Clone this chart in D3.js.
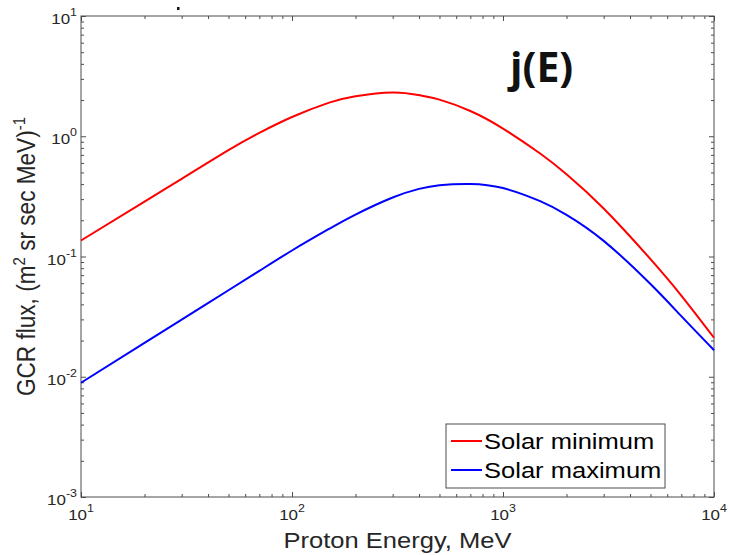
<!DOCTYPE html>
<html>
<head>
<meta charset="utf-8">
<script src="https://cdn.jsdelivr.net/npm/d3@7"></script>
<style>
  html, body { margin: 0; padding: 0; background: #ffffff; }
  svg { display: block; }
  text { font-family: "Liberation Sans", Arial, Helvetica, sans-serif; fill: #262626; }
</style>
</head>
<body>
<svg id="chart" width="730" height="555"></svg>
<script>
// Proton energy grid (MeV)
const energy = [10, 20, 30, 50, 70, 100, 150, 200, 300, 400, 500, 700, 1000, 1500, 2000, 3000, 5000, 7000, 10000];
// GCR differential flux, (m^2 sr sec MeV)^-1
const fluxSolarMin = [0.1359, 0.2862, 0.4422, 0.7661, 1.065, 1.445, 1.902, 2.154, 2.313, 2.199, 2.015, 1.622, 1.159, 0.7188, 0.4832, 0.2507, 0.0951, 0.0473, 0.0211];
const fluxSolarMax = [0.00891, 0.01913, 0.02985, 0.0524, 0.0759, 0.1122, 0.1698, 0.2234, 0.3095, 0.3652, 0.392, 0.4013, 0.3708, 0.2884, 0.2221, 0.1349, 0.0590, 0.0319, 0.01663];
const seriesNames = ["Solar minimum", "Solar maximum"];
const seriesColors = ["#ff0000", "#0000ff"];
// Decade tick exponents
const xTickExponents = [1, 2, 3, 4];
const yTickExponents = [-3, -2, -1, 0, 1];

(function () {
  const svg = d3.select("#chart");
  const plotL = 81, plotR = 714, plotT = 16, plotB = 497;
  const axisColor = "#4d4d4d";
  const stretch = 1.13;

  const x = d3.scaleLog().domain([10, 1e4]).range([plotL, plotR]);
  const y = d3.scaleLog().domain([1e-3, 10]).range([plotB, plotT]);

  // minor tick values (2..9 of each decade)
  function minorTicks(lo, hi) {
    const out = [];
    for (let e = lo; e < hi; e++) for (let m = 2; m <= 9; m++) out.push(m * Math.pow(10, e));
    return out;
  }
  const xMajor = xTickExponents.map(e => Math.pow(10, e));
  const yMajor = yTickExponents.map(e => Math.pow(10, e));
  const xMinor = minorTicks(1, 4);
  const yMinor = minorTicks(-3, 1);

  function tickGroup(axisFn, scale, values, size, transform) {
    const g = svg.append("g").attr("transform", transform)
      .call(axisFn(scale).tickValues(values).tickSize(size).tickFormat(""));
    g.select(".domain").remove();
    g.selectAll(".tick line").attr("stroke", axisColor).attr("stroke-width", 1);
    return g;
  }
  // inward ticks on all four sides
  tickGroup(d3.axisBottom, x, xMajor, -5, `translate(0,${plotB})`);
  tickGroup(d3.axisBottom, x, xMinor, -3, `translate(0,${plotB})`);
  tickGroup(d3.axisTop, x, xMajor, -5, `translate(0,${plotT})`);
  tickGroup(d3.axisTop, x, xMinor, -3, `translate(0,${plotT})`);
  tickGroup(d3.axisLeft, y, yMajor, -5, `translate(${plotL},0)`);
  tickGroup(d3.axisLeft, y, yMinor, -3, `translate(${plotL},0)`);
  tickGroup(d3.axisRight, y, yMajor, -5, `translate(${plotR},0)`);
  tickGroup(d3.axisRight, y, yMinor, -3, `translate(${plotR},0)`);

  // axes box
  svg.append("rect")
    .attr("x", plotL).attr("y", plotT)
    .attr("width", plotR - plotL).attr("height", plotB - plotT)
    .attr("fill", "none").attr("stroke", axisColor).attr("stroke-width", 1);

  // x tick labels: 10^n
  xTickExponents.forEach(e => {
    const g = svg.append("g").attr("transform", `translate(${x(Math.pow(10, e))},520) scale(${stretch},1)`);
    const t = g.append("text").attr("text-anchor", "middle").style("font-size", "15px");
    t.append("tspan").text("10");
    t.append("tspan").attr("dy", -8).style("font-size", "11px").text(String(e));
  });
  // y tick labels
  yTickExponents.forEach(e => {
    const g = svg.append("g").attr("transform", `translate(77,${y(Math.pow(10, e)) + 8}) scale(${stretch},1)`);
    const t = g.append("text").attr("text-anchor", "end").style("font-size", "15px");
    t.append("tspan").text("10");
    t.append("tspan").attr("dy", -8).style("font-size", "11px").text(String(e));
  });

  // axis titles
  svg.append("g").attr("transform", `translate(${(plotL + plotR) / 2},548) scale(${stretch},1)`)
    .append("text").attr("text-anchor", "middle").style("font-size", "22.6px")
    .text("Proton Energy, MeV");

  const yl = svg.append("g").attr("transform", `translate(35,${(plotT + plotB) / 2}) scale(${stretch},1) rotate(-90)`)
    .append("text").attr("text-anchor", "middle").style("font-size", "22.6px");
  yl.append("tspan").text("GCR flux, (m");
  yl.append("tspan").attr("dy", -9).style("font-size", "15px").text("2");
  yl.append("tspan").attr("dy", 9).text(" sr sec MeV)");
  yl.append("tspan").attr("dy", -9).style("font-size", "15px").text("-1");

  // curves
  const line = d3.line()
    .x(d => x(d[0]))
    .y(d => y(d[1]))
    .curve(d3.curveNatural);
  [fluxSolarMin, fluxSolarMax].forEach((vals, i) => {
    svg.append("path")
      .datum(energy.map((e, k) => [e, vals[k]]))
      .attr("d", line)
      .attr("fill", "none")
      .attr("stroke", seriesColors[i])
      .attr("stroke-width", 2);
  });

  // panel annotation
  svg.append("text")
    .attr("x", 510).attr("y", 82)
    .style("font-family", "'Open Sans', sans-serif")
    .style("font-weight", "bold")
    .style("font-size", "41px")
    .style("fill", "#111")
    .text("j(E)");

  // small stray mark above the axes
  svg.append("rect").attr("x", 177).attr("y", 7).attr("width", 2.5).attr("height", 3).attr("fill", "#111");

  // legend
  const lg = svg.append("g");
  lg.append("rect").attr("x", 446).attr("y", 424).attr("width", 219).attr("height", 64)
    .attr("fill", "#ffffff").attr("stroke", axisColor).attr("stroke-width", 1);
  seriesNames.forEach((name, i) => {
    const yy = 441 + i * 29;
    lg.append("line").attr("x1", 451).attr("x2", 482).attr("y1", yy).attr("y2", yy)
      .attr("stroke", seriesColors[i]).attr("stroke-width", 2);
    lg.append("g").attr("transform", `translate(484,${yy + 8}) scale(${stretch},1)`)
      .append("text").style("font-size", "22.6px").style("fill", "#000").text(name);
  });
})();
</script>
</body>
</html>
